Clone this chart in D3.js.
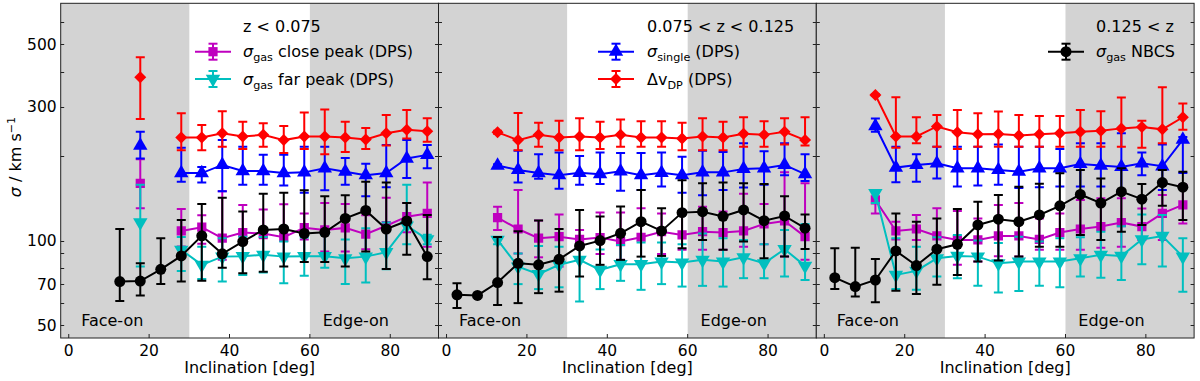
<!DOCTYPE html>
<html lang="en">
<head>
<meta charset="UTF-8">
<title>Velocity dispersion vs inclination</title>
<script src="https://d3js.org/d3.v7.min.js"></script>
<style>
  body { margin: 0; background: white; }
  svg { display: block; font-family: "DejaVu Sans", sans-serif; }
</style>
</head>
<body>
<script>
// bin centres of inclination (deg), shared by all panels
const inclination = [2.6, 7.7, 12.7, 17.8, 22.9, 28.0, 33.1, 38.2, 43.3, 48.4, 53.5, 58.6, 63.7, 68.8, 73.9, 79.0, 84.1, 89.2];

// each entry: [value, lower end of error bar, upper end] in km/s, null = no point
// panel 1: z < 0.075
const p1Close = [null, null, null, [160, 130.5, 195], null, [108.3, 95.2, 129.6], [111.6, 97.4, 123], [102, 85.4, 150], [106.8, 99.2, 134], [106, 102, 129], [102.8, 87.7, 134.7], [111.2, 101, 125], [109.2, 91.4, 136], [111, 91.4, 135], [105.4, 93.2, 123], [113, 91.9, 142], [121.7, 107, 136], [125, 95, 161]];
const p1Far = [null, null, null, [116, 80.8, 158], null, [92.7, 78, 103], [82, 73, 95], [87.7, 71.5, 102], [88, 75.5, 103.3], [89, 77, 103], [87.7, 70.5, 99.2], [88, 75, 102.5], [88, 80, 105], [86.5, 70, 101], [87.7, 71, 110.7], [91, 79, 116], [113, 97, 158], [101, 97, 105]];
const p1Single = [null, null, null, [218, 196, 244], null, [174, 162, 214], [174, 161, 183], [186, 150, 228], [177, 158, 216], [177, 158, 202], [174, 157, 202], [175, 148, 216], [181, 151, 216], [176, 158, 197], [171, 144, 188], [174, 155, 219], [196, 167, 228], [202, 181, 219]];
const p1Dvdp = [null, null, null, [382, 271, 450], null, [233, 210, 284], [233, 210, 258], [241, 216, 289], [235, 212, 265], [238, 216, 262], [228, 205, 256], [235, 212, 286], [235, 203, 293], [233, 207, 265], [229, 212, 252], [241, 218, 280], [248, 231, 292], [245, 225, 273]];
const p1Nbcs = [null, null, [71.5, 61, 110], [71.8, 63.8, 83], [79, 70, 102], [88.2, 71.5, 118.5], [104, 72, 135], [89.7, 80, 142], [99.2, 76.5, 127], [109.2, 77.5, 147], [110, 80.8, 148], [106, 84, 151], [107, 84, 144], [120, 80.8, 145], [128, 91.4, 162], [110, 79.3, 161], [117.5, 89, 136], [87.7, 72.9, 123.4]];

// panel 2: 0.075 < z < 0.125
const p2Close = [null, null, [120.7, 109, 132], [110, 90, 151.5], [102, 87.2, 118], [103.3, 80.8, 124], [101, 95, 109], [102.5, 89.6, 125.8], [99.2, 85.4, 125.8], [102.8, 83, 130.4], [107.6, 89.6, 125], [104.8, 92.7, 125], [107.6, 92.7, 132], [106.8, 92.7, 127], [108.3, 95, 147], [114.6, 97, 135], [117.5, 87.7, 175], [103.3, 85.4, 160]];
const p2Far = [null, null, [100.6, 97, 103], [80.8, 70, 90], [76, 67.2, 95.7], [82, 68.2, 95], [85.4, 60.7, 95], [78.7, 67.2, 93], [82.4, 71.9, 96.5], [82.4, 66.8, 98.4], [84.2, 70, 98.4], [83.5, 68.6, 97], [85.4, 69, 106], [84.2, 68.6, 102], [87.2, 73.5, 100.6], [83, 73.5, 97], [93.2, 74.5, 109], [81.3, 72.4, 114.6]];
const p2Single = [null, null, [185, 183, 187], [178.5, 161, 209], [174, 166, 203], [171, 153, 206], [174.5, 158, 200], [172.5, 159, 206], [176.5, 150.5, 205], [171, 151.5, 205], [174.5, 156, 206], [171, 148, 199], [175, 145, 209], [175, 151.5, 207], [180, 154.6, 222], [181, 158, 208], [186, 171, 222], [172.5, 163, 203]];
const p2Dvdp = [null, null, [243, 240, 246], [228, 210, 285], [238, 216, 263], [233, 210, 267], [235, 210, 273], [233, 212, 265], [238, 216, 270], [233, 216, 266], [233, 216, 266], [231, 210, 263], [235, 210, 273], [233, 210, 265], [240, 216, 275], [238, 216, 266], [244, 220, 273], [228, 218, 275]];
const p2Nbcs = [[64.1, 57.5, 70.5], [63.8, 63.8, 63.8], [70.9, 59, 103], [83, 59.9, 108], [82, 65, 118], [85.8, 65.8, 110], [95.7, 74.5, 128.6], [100, 82, 121.8], [106.2, 85.4, 132.3], [116.8, 87.7, 151.5], [108.3, 88.2, 130.4], [125.8, 94, 164], [126.8, 100.6, 160], [122, 92.7, 161], [128.6, 99.2, 160], [117.8, 86.5, 159], [122.4, 87.7, 144], [110.7, 93.4, 124]];

// panel 3: 0.125 < z
const p3Close = [null, null, [139.6, 125, 151.5], [108.3, 101, 116.8], [110, 100.6, 123.4], [103.9, 92.7, 130.4], [100.6, 82, 127.5], [100.6, 84.2, 120], [103.9, 88, 134], [103.9, 87.7, 136], [101, 92.7, 120], [106.8, 92.7, 125], [110, 92.7, 139.6], [112.2, 94.4, 141.4], [116, 95, 141.4], [112.2, 100.6, 130], [125, 100.6, 145.4], [134, 115, 158]];
const p3Far = [null, null, [147.5, 136, 151.5], [75.5, 67.2, 102], [78, 66.8, 95], [86.5, 74.5, 102.8], [88.2, 73.5, 104.8], [87.7, 69, 100], [83, 65.4, 98], [84.2, 66.2, 103.3], [84.2, 69, 99.2], [84.2, 68.2, 102], [86.5, 74.5, 102.8], [89, 73.8, 107.6], [88.2, 72.4, 112.6], [101, 82.4, 124], [103.9, 80.8, 123.4], [87.7, 65.8, 102]];
const p3Single = [null, null, [256, 244, 272], [182, 161.5, 216], [186, 162, 203], [188.5, 166.5, 216], [181, 156, 216], [181, 157, 216], [178.5, 158, 220], [176, 154, 216], [181, 155, 216], [181, 156, 212], [187.5, 156, 222], [185, 156, 222], [183, 151.5, 241], [188.5, 171, 206], [184, 151.5, 220], [229, 174, 234]];
const p3Dvdp = [null, null, [330, 328, 332], [235, 214, 324], [235, 222, 275], [255, 216, 280], [243, 212, 292], [239, 216, 284], [239.5, 216, 288], [237, 216, 280], [239, 216, 278], [241, 216, 278], [244, 216, 292], [246, 216, 289], [251, 216, 323], [254, 214, 267], [249, 222, 352], [275, 248, 308]];
const p3Nbcs = [[73.8, 67.2, 94], [68.6, 63.2, 94.4], [72.4, 60.3, 86], [91.9, 66.3, 125], [81.5, 64.5, 116.8], [93.2, 69.6, 120], [97, 75.5, 129.6], [113.7, 84.2, 137.6], [119.2, 85, 145.4], [116.8, 87.7, 155.6], [123.4, 95, 159.5], [133, 95, 173.6], [146, 104.8, 178.5], [136, 100.6, 166.5], [149.4, 107.6, 181], [140.4, 113.7, 159], [161, 133, 178.5], [155, 118.5, 176]];

const panelTitles = ["z < 0.075", "0.075 < z < 0.125", "0.125 < z"];
const xTicks = [0, 20, 40, 60, 80];
const yTicks = [50, 60, 70, 80, 90, 100, 200, 300, 400, 500, 600];
const yTickLabels = [50, 70, 100, 300, 500];

// series styles (matplotlib m, c, b, r, k)
const style = {
    close: { color: "#bf00bf", shape: "square" },
    far: { color: "#00bfbf", shape: "down" },
    single: { color: "#0000ff", shape: "up" },
    dvdp: { color: "#ff0000", shape: "diamond" },
    nbcs: { color: "#000000", shape: "circle" }
};
const labels = {
    close: [{ t: "σ", i: true }, { t: "gas", sub: true }, { t: " close peak (DPS)" }],
    far: [{ t: "σ", i: true }, { t: "gas", sub: true }, { t: " far peak (DPS)" }],
    single: [{ t: "σ", i: true }, { t: "single", sub: true }, { t: " (DPS)" }],
    dvdp: [{ t: "Δv" }, { t: "DP", sub: true }, { t: " (DPS)" }],
    nbcs: [{ t: "σ", i: true }, { t: "gas", sub: true }, { t: " NBCS" }]
};

const panels = [
    { series: { close: p1Close, far: p1Far, single: p1Single, dvdp: p1Dvdp, nbcs: p1Nbcs }, legend: ["close", "far"] },
    { series: { close: p2Close, far: p2Far, single: p2Single, dvdp: p2Dvdp, nbcs: p2Nbcs }, legend: ["single", "dvdp"] },
    { series: { close: p3Close, far: p3Far, single: p3Single, dvdp: p3Dvdp, nbcs: p3Nbcs }, legend: ["nbcs"] }
];
const drawOrder = ["close", "far", "single", "dvdp", "nbcs"];

// layout
const width = 1200, height = 381;
const left0 = 60.7, pw = 377.8, plotTop = 3.3, plotBottom = 338;
const legendPos = [{ hx: 195, tx: 243 }, { hx: 598, tx: 647 }, { hx: 1048, tx: 1096 }];
const fs = 16;

const svg = d3.select("body").append("svg")
    .attr("width", width).attr("height", height);

const y = d3.scaleLog().domain([45, 700]).range([plotBottom, plotTop]);

function symbolPath(shape) {
    if (shape === "square") return d3.symbol(d3.symbolSquare, 85)();
    if (shape === "circle") return d3.symbol(d3.symbolCircle, 95)();
    if (shape === "diamond") return d3.symbol(d3.symbolSquare, 72)();
    return d3.symbol(d3.symbolTriangle, 90)();
}
function symbolRotate(shape) {
    if (shape === "diamond") return 45;
    if (shape === "down") return 180;
    return 0;
}

function drawMarker(g, shape, color, cx, cy) {
    g.append("path")
        .attr("d", symbolPath(shape))
        .attr("transform", `translate(${cx},${cy}) rotate(${symbolRotate(shape)})`)
        .attr("fill", color);
}

function drawErr(g, color, cx, y1, y2) {
    if (Math.abs(y1 - y2) < 0.5) return;
    g.append("line").attr("x1", cx).attr("x2", cx).attr("y1", y1).attr("y2", y2)
        .attr("stroke", color).attr("stroke-width", 2);
    [y1, y2].forEach(yy => {
        g.append("line").attr("x1", cx - 4.5).attr("x2", cx + 4.5).attr("y1", yy).attr("y2", yy)
            .attr("stroke", color).attr("stroke-width", 2);
    });
}

function richText(g, parts, x0, y0, size) {
    const t = g.append("text").attr("x", x0).attr("y", y0)
        .attr("font-size", size).attr("fill", "black");
    let shift = 0;
    parts.forEach(p => {
        const ts = t.append("tspan").text(p.t);
        if (p.i) ts.attr("font-style", "italic");
        if (p.sub) {
            ts.attr("font-size", size * 0.7).attr("dy", 4 - shift);
            shift = 4;
        } else if (p.sup) {
            ts.attr("font-size", size * 0.7).attr("dy", -6 - shift);
            shift = -6;
        } else if (shift !== 0) {
            ts.attr("dy", -shift);
            shift = 0;
        }
    });
    return t;
}

panels.forEach((panel, pi) => {
    const x0 = left0 + pi * pw;
    const x = d3.scaleLinear().domain([-2, 92]).range([x0, x0 + pw]);
    const g = svg.append("g");

    g.append("clipPath").attr("id", "clip" + pi)
        .append("rect").attr("x", x0).attr("y", plotTop).attr("width", pw).attr("height", plotBottom - plotTop);

    // shaded face-on / edge-on ranges
    [[-2, 30], [60, 92]].forEach(([a, b]) => {
        g.append("rect").attr("x", x(a)).attr("y", plotTop)
            .attr("width", x(b) - x(a)).attr("height", plotBottom - plotTop)
            .attr("fill", "#d3d3d3");
    });

    g.append("text").attr("x", x(3.1)).attr("y", 326).attr("font-size", fs).text("Face-on");
    g.append("text").attr("x", x(63.2)).attr("y", 326).attr("font-size", fs).text("Edge-on");

    const plot = g.append("g").attr("clip-path", `url(#clip${pi})`);

    drawOrder.forEach(key => {
        const data = panel.series[key].map((d, i) => d ? { x: inclination[i], v: d[0], lo: d[1], hi: d[2] } : null);
        const st = style[key];
        const line = d3.line()
            .defined(d => d !== null)
            .x(d => x(d.x))
            .y(d => y(d.v));
        plot.append("path").datum(data).attr("d", line)
            .attr("fill", "none").attr("stroke", st.color).attr("stroke-width", 2);
        data.filter(d => d).forEach(d => drawErr(plot, st.color, x(d.x), y(d.lo), y(d.hi)));
        data.filter(d => d).forEach(d => drawMarker(plot, st.shape, st.color, x(d.x), y(d.v)));
    });

    // frame
    g.append("rect").attr("x", x0).attr("y", plotTop).attr("width", pw).attr("height", plotBottom - plotTop)
        .attr("fill", "none").attr("stroke", "#222").attr("stroke-width", 1);

    // y ticks on both sides, pointing in
    yTicks.forEach(v => {
        const yy = Math.round(y(v)) + 0.5;
        g.append("line").attr("x1", x0).attr("x2", x0 + 3.5).attr("y1", yy).attr("y2", yy)
            .attr("stroke", "#222").attr("stroke-width", 1);
        g.append("line").attr("x1", x0 + pw - 3.5).attr("x2", x0 + pw).attr("y1", yy).attr("y2", yy)
            .attr("stroke", "#222").attr("stroke-width", 1);
    });
    if (pi === 0) {
        yTickLabels.forEach(v => {
            g.append("text").attr("x", x0 - 4).attr("y", y(v)).attr("dy", "0.36em")
                .attr("text-anchor", "end").attr("font-size", 15.5).text(v);
        });
    }

    // x ticks
    xTicks.forEach(v => {
        g.append("line").attr("x1", x(v)).attr("x2", x(v)).attr("y1", plotBottom).attr("y2", plotBottom - 4)
            .attr("stroke", "#222").attr("stroke-width", 1);
        g.append("text").attr("x", x(v)).attr("y", 356).attr("text-anchor", "middle")
            .attr("font-size", 15.5).text(v);
    });
    g.append("text").attr("x", x0 + pw / 2).attr("y", 373).attr("text-anchor", "middle")
        .attr("font-size", fs).text("Inclination [deg]");

    // legend
    const lp = legendPos[pi];
    g.append("text").attr("x", lp.tx).attr("y", 32).attr("font-size", fs).text(panelTitles[pi]);
    panel.legend.forEach((key, k) => {
        const cy = 51.7 + k * 27.3;
        const st = style[key];
        g.append("line").attr("x1", lp.hx).attr("x2", lp.hx + 36).attr("y1", cy).attr("y2", cy)
            .attr("stroke", st.color).attr("stroke-width", 2);
        drawErr(g, st.color, lp.hx + 18, cy - 8, cy + 8);
        drawMarker(g, st.shape, st.color, lp.hx + 18, cy);
        richText(g, labels[key], lp.tx, cy + 5.5, fs);
    });
});

// y label
const yl = richText(svg, [{ t: "σ", i: true }, { t: " / km s" }, { t: "−1", sup: true }], 0, 0, fs);
yl.attr("x", null).attr("y", null)
    .attr("text-anchor", "middle")
    .attr("transform", "translate(21,157) rotate(-90)");
</script>
</body>
</html>
